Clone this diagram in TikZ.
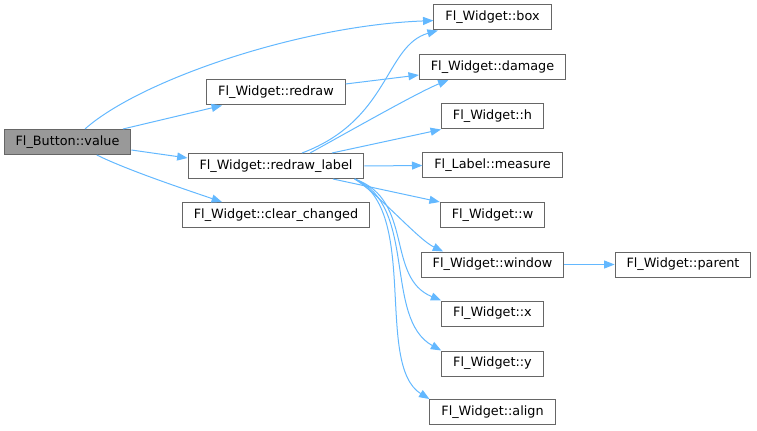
\documentclass[tikz,border=0pt]{standalone}
\usepackage{fontspec}
\setmainfont{DejaVu Sans}
\usepackage{xcolor}
\usepackage{tikz}
\usetikzlibrary{arrows.meta}
\definecolor{AzulLlamada}{RGB}{99,184,255}
\definecolor{GrisBorde}{RGB}{102,102,102}
\definecolor{GrisActual}{RGB}{153,153,153}

\begin{document}
\begin{tikzpicture}[x=0.75pt,y=-0.75pt,>={Triangle[length=7.8pt,width=6pt]},
  fn/.style={draw=GrisBorde,line width=0.75pt,fill=white,inner xsep=8.6pt,
    inner ysep=0pt,minimum height=18.75pt,font=\fontsize{9.6pt}{11pt}\selectfont},
  llamada/.style={->,AzulLlamada,line width=0.75pt}]
  \useasboundingbox (0,0) rectangle (757,431);

  \node[fn,fill=GrisActual] (value) at (67.5,142) {Fl\_Button::value};

  \node[fn] (redraw)  at (276,92.5) {Fl\_Widget::redraw};
  \node[fn] (rlabel)  at (276,166)  {Fl\_Widget::redraw\_label};
  \node[fn] (clear)   at (276,215)  {Fl\_Widget::clear\_changed};

  \node[fn] (box)     at (492.5,17.5)  {Fl\_Widget::box};
  \node[fn] (damage)  at (492.5,67)    {Fl\_Widget::damage};
  \node[fn] (wh)      at (492.5,116.5) {Fl\_Widget::h};
  \node[fn] (measure) at (492.5,165.5) {Fl\_Label::measure};
  \node[fn] (ww)      at (492.5,215)   {Fl\_Widget::w};
  \node[fn] (window)  at (492.5,264.5) {Fl\_Widget::window};
  \node[fn] (wx)      at (492.5,313.5) {Fl\_Widget::x};
  \node[fn] (wy)      at (492.5,363.5) {Fl\_Widget::y};
  \node[fn] (align)   at (492.5,412)   {Fl\_Widget::align};

  \node[fn] (parent)  at (683,264.5) {Fl\_Widget::parent};

  % llamadas de Fl_Button::value
  \draw[llamada] ([xshift=13.1pt]value.north)
       .. controls +(55,-49) and +(-133,5) .. ([yshift=-2.3pt]box.west);
  \draw[llamada] ([xshift=41.6pt]value.north) -- ([xshift=-40.5pt]redraw.south);
  \draw[llamada] ([yshift=-6pt]value.east) -- ([yshift=6pt]rlabel.west);
  \draw[llamada] ([xshift=22pt]value.south)
       .. controls +(30,15) and +(-35,-12) .. ([xshift=-40.5pt]clear.north);

  \draw[llamada] ([yshift=6.4pt]redraw.east) -- ([yshift=-6pt]damage.west);

  % llamadas de Fl_Widget::redraw_label
  \draw[llamada] ([xshift=19.5pt]rlabel.north)
       .. controls +(88,-33) and +(-53,15) .. ([xshift=-41pt]box.south);
  \draw[llamada] ([xshift=25.5pt]rlabel.north)
       .. controls +(40,-22) and +(-30,12) .. ([xshift=-33pt]damage.south);
  \draw[llamada] ([xshift=42pt]rlabel.north) -- (wh.south west);
  \draw[llamada] (rlabel.east) -- (measure.west);
  \draw[llamada] ([xshift=42.75pt]rlabel.south) -- (ww.north west);
  \draw[llamada] ([xshift=59pt]rlabel.south)
       .. controls +(25,16) and +(-25,-12) .. ([xshift=-37pt]window.north);
  \draw[llamada] ([xshift=59pt]rlabel.south)
       .. controls +(60,21) and +(-56,-23) .. (wx.north west);
  \draw[llamada] ([xshift=59pt]rlabel.south)
       .. controls +(63,26) and +(-58,-32) .. (wy.north west);
  \draw[llamada] ([xshift=59pt]rlabel.south)
       .. controls +(65,31) and +(-55,-34) .. (align.north west);

  \draw[llamada] (window.east) -- (parent.west);
\end{tikzpicture}
\end{document}
